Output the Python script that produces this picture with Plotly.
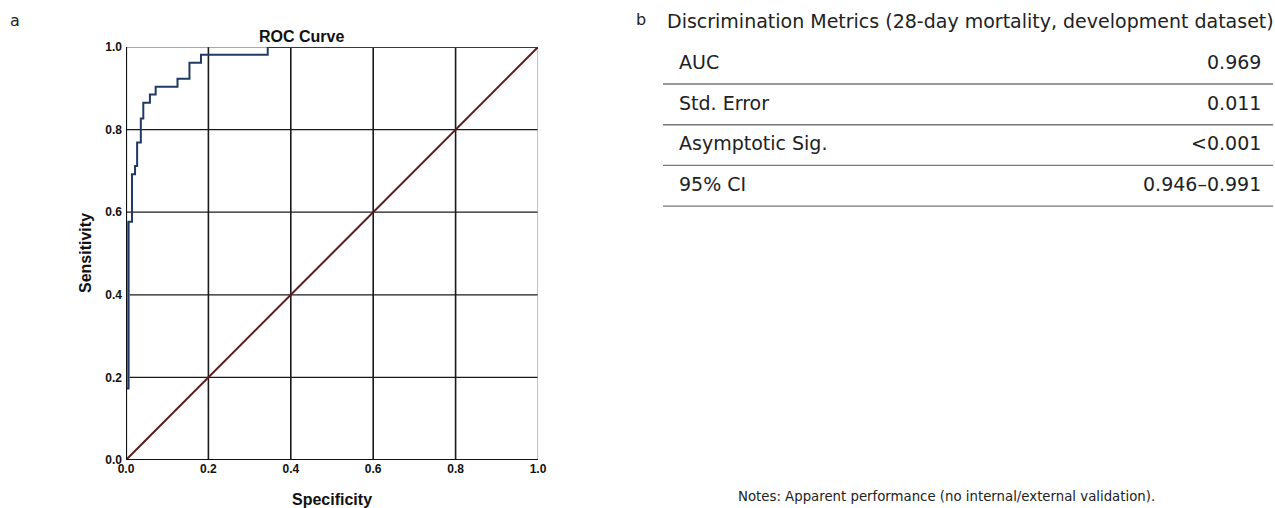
import plotly.graph_objects as go

# ROC curve corner points (x = 1 - specificity, y = sensitivity), drawn as steps
roc_fpr = [0.0, 0.0, 0.006, 0.0146, 0.022, 0.027, 0.036, 0.042, 0.058, 0.072, 0.125, 0.154, 0.182, 0.344, 1.0]
roc_tpr = [0.0, 0.173, 0.577, 0.692, 0.712, 0.769, 0.827, 0.865, 0.885, 0.904, 0.923, 0.962, 0.981, 1.0, 1.0]

# Reference line
ref_x = [0.0, 1.0]
ref_y = [0.0, 1.0]

tick_vals = [0.0, 0.2, 0.4, 0.6, 0.8, 1.0]
tick_text = ["0.0", "0.2", "0.4", "0.6", "0.8", "1.0"]

# Metrics table
metric_names = ["AUC", "Std. Error", "Asymptotic Sig.", "95% CI"]
metric_values = ["0.969", "0.011", "<0.001", "0.946\u20130.991"]

W, H = 1275, 508
# plot rectangle in pixels
PX0, PX1, PY0, PY1 = 126, 538, 47, 460


def fx(px):
    return px / W


def fy(py):
    return 1 - py / H


fig = go.Figure()

# faint band along the steep early rise
fig.add_trace(go.Scatter(
    x=[0.003, 0.003], y=[roc_tpr[1], roc_tpr[2]], mode="lines",
    line=dict(color="#9db4cc", width=5), hoverinfo="skip", showlegend=False))

fig.add_trace(go.Scatter(
    x=ref_x, y=ref_y, mode="lines",
    line=dict(color="#5c1a1e", width=2), showlegend=False))

fig.add_trace(go.Scatter(
    x=roc_fpr, y=roc_tpr, mode="lines", line_shape="hv",
    line=dict(color="#203a63", width=2), showlegend=False, cliponaxis=False))

axis_font = dict(family="Liberation Sans, Arial, sans-serif", size=12, color="#111", weight="bold")

fig.update_xaxes(
    domain=[fx(PX0), fx(PX1)], range=[0, 1], tickvals=tick_vals, ticktext=tick_text,
    showgrid=False, zeroline=False, showline=False, ticks="", tickfont=axis_font,
    automargin=False, fixedrange=True)
fig.update_yaxes(
    domain=[fy(PY1), fy(PY0)], range=[0, 1], tickvals=tick_vals, ticktext=tick_text,
    showgrid=False, zeroline=False, showline=False, ticks="", tickfont=axis_font,
    ticklabelstandoff=3, automargin=False, fixedrange=True)

shapes = []
# interior grid
for v in [0.2, 0.4, 0.6, 0.8]:
    shapes.append(dict(type="line", xref="x", yref="y", x0=v, x1=v, y0=0, y1=1,
                       line=dict(color="#1a1a1a", width=1.6), layer="below"))
    shapes.append(dict(type="line", xref="x", yref="y", x0=0, x1=1, y0=v, y1=v,
                       line=dict(color="#1a1a1a", width=1.2), layer="below"))
# frame: heavy left/bottom, light top/right
shapes.append(dict(type="line", xref="x", yref="y", x0=0, x1=1, y0=1, y1=1,
                   line=dict(color="#555", width=1.2), layer="below"))
shapes.append(dict(type="line", xref="x", yref="y", x0=1, x1=1, y0=0, y1=1,
                   line=dict(color="#999", width=1.2), layer="below"))
shapes.append(dict(type="line", xref="x", yref="y", x0=0, x1=0, y0=0, y1=1,
                   line=dict(color="#111", width=2.2)))
shapes.append(dict(type="line", xref="x", yref="y", x0=0, x1=1, y0=0, y1=0,
                   line=dict(color="#111", width=2.2)))

annotations = []
title_font = dict(family="Liberation Sans, Arial, sans-serif", size=16, color="#111", weight="bold")
annotations.append(dict(text="ROC Curve", x=fx(301), y=fy(37), xref="paper", yref="paper",
                        showarrow=False, font=title_font, xanchor="center", yanchor="middle"))
annotations.append(dict(text="Sensitivity", x=fx(85), y=fy(253), xref="paper", yref="paper",
                        showarrow=False, font=title_font, textangle=-90,
                        xanchor="center", yanchor="middle"))
annotations.append(dict(text="Specificity", x=fx(332), y=fy(499), xref="paper", yref="paper",
                        showarrow=False, font=title_font, xanchor="center", yanchor="middle"))

panel_font = dict(family="DejaVu Sans, sans-serif", size=16, color="#222")
annotations.append(dict(text="a", x=fx(8), y=fy(20), xref="paper", yref="paper",
                        showarrow=False, font=panel_font, xanchor="left", yanchor="middle"))
annotations.append(dict(text="b", x=fx(634), y=fy(19), xref="paper", yref="paper",
                        showarrow=False, font=panel_font, xanchor="left", yanchor="middle"))

table_font = dict(family="DejaVu Sans, sans-serif", size=19, color="#222")
annotations.append(dict(text="Discrimination Metrics (28-day mortality, development dataset)",
                        x=fx(665), y=fy(21), xref="paper", yref="paper", showarrow=False,
                        font=table_font, xanchor="left", yanchor="middle"))

row_h = 40.7
row0 = 62
for i, (name, val) in enumerate(zip(metric_names, metric_values)):
    yc = row0 + i * row_h
    annotations.append(dict(text=name, x=fx(677), y=fy(yc), xref="paper", yref="paper",
                            showarrow=False, font=table_font, xanchor="left", yanchor="middle"))
    annotations.append(dict(text=val, x=fx(1263), y=fy(yc), xref="paper", yref="paper",
                            showarrow=False, font=table_font, xanchor="right", yanchor="middle"))
    yl = yc + 22
    shapes.append(dict(type="line", xref="paper", yref="paper", x0=fx(663), x1=fx(1273),
                       y0=fy(yl), y1=fy(yl), line=dict(color="#777", width=1.4)))

annotations.append(dict(text="Notes: Apparent performance (no internal/external validation).",
                        x=fx(736), y=fy(496), xref="paper", yref="paper", showarrow=False,
                        font=dict(family="DejaVu Sans, sans-serif", size=13.3, color="#222"),
                        xanchor="left", yanchor="middle"))

fig.update_layout(
    width=W, height=H, margin=dict(l=0, r=0, t=0, b=0),
    paper_bgcolor="white", plot_bgcolor="white",
    shapes=shapes, annotations=annotations, showlegend=False,
)

fig.write_html("out.html", include_plotlyjs=True, config={"displayModeBar": False})
